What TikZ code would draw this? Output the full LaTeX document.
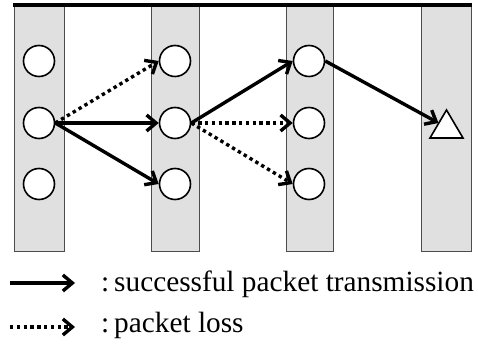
\documentclass[tikz,border=0pt]{standalone}
\usepackage{fontspec}
\setmainfont{Liberation Serif}
\usetikzlibrary{arrows.meta}
\begin{document}
\begin{tikzpicture}[x=1pt,y=-1pt,
  lane/.style={draw=black!70,line width=1pt,fill=black!12},
  relay/.style={circle,draw,line width=1.6pt,fill=white,minimum size=31pt,inner sep=0pt},
  sink/.style={draw,line width=1.6pt,fill=white,line join=miter},
  barb/.style={-{Straight Barb[length=9.5pt,width=16pt,line width=3.4pt]}},
  ok/.style={barb,line width=3.4pt},
  lost/.style={barb,line width=3.4pt,dash pattern=on 3.4pt off 3.4pt}]
\useasboundingbox (0,0) rectangle (478,344);

% lanes
\draw[lane] (14,5) rectangle (64,251);
\draw[lane] (151,5) rectangle (199,251);
\draw[lane] (286,5) rectangle (333,251);
\draw[lane] (421,5) rectangle (471,251);
% top bar
\draw[line width=3.8pt] (13,5) -- (472,5);

% relays
\node[relay] (a1) at (39,61) {};
\node[relay] (a2) at (39,123) {};
\node[relay] (a3) at (39,184) {};
\node[relay] (b1) at (175,61) {};
\node[relay] (b2) at (175,123) {};
\node[relay] (b3) at (175,184) {};
\node[relay] (c1) at (309,61) {};
\node[relay] (c2) at (309,123) {};
\node[relay] (c3) at (309,184) {};

% destination
\coordinate (d1) at (446.5,110);
\coordinate (d2) at (463,138);
\coordinate (d3) at (430,138);
\draw[sink] (d1) -- (d2) -- (d3) -- cycle;
\coordinate (dt) at (438.5,123);

% transmissions
\draw[lost] (a2.east) -- (b1.west);
\draw[ok] (a2.east) -- (b2.west);
\draw[ok] (a2.east) -- (b3.west);
\draw[ok] (b2.east) -- (c1.west);
\draw[lost] (b2.east) -- (c2.west);
\draw[lost] (b2.east) -- (c3.west);
\draw[ok] (c1.east) -- (dt);

% legend
\coordinate (l1a) at (10,283);
\coordinate (l1b) at (75,283);
\coordinate (l2a) at (10,327);
\coordinate (l2b) at (75,327);
\draw[ok] (l1a) -- (l1b);
\draw[lost] (l2a) -- (l2b);
\node[anchor=base west,inner sep=0pt,font=\fontsize{29.3}{35}\selectfont] (t1) at (101,291) {:\,successful packet transmission};
\node[anchor=base west,inner sep=0pt,font=\fontsize{29.3}{35}\selectfont] (t2) at (101,332) {:\,packet loss};
\end{tikzpicture}
\end{document}
